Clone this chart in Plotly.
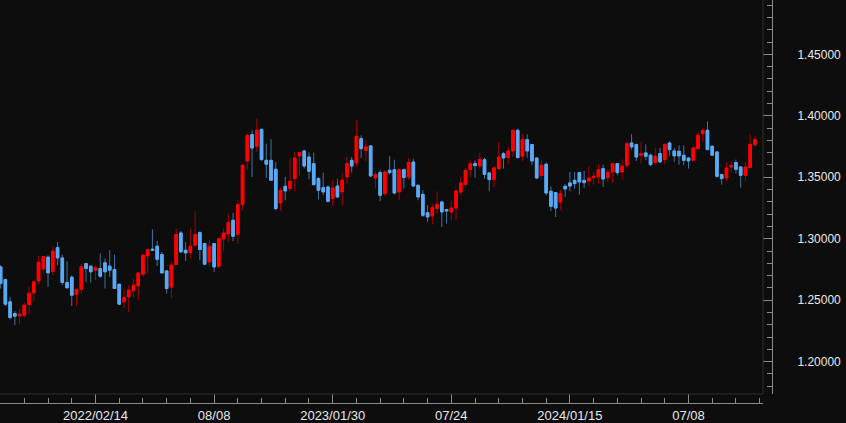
import pandas as pd
import plotly.graph_objects as go

# ---------------- data (weekly candles) ----------------
first_week = "2021-09-27"

open_ = [1.2771, 1.2668, 1.2487, 1.2392, 1.2373, 1.2378, 1.2465, 1.2560, 1.2657, 1.2755,
         1.2850, 1.2736, 1.2928, 1.2844, 1.2644, 1.2687, 1.2549, 1.2587, 1.2798, 1.2777,
         1.2744, 1.2758, 1.2804, 1.2777, 1.2750, 1.2630, 1.2487, 1.2527, 1.2576, 1.2617,
         1.2711, 1.2860, 1.2915, 1.2939, 1.2871, 1.2738, 1.2608, 1.2790, 1.3047, 1.2906,
         1.2888, 1.2947, 1.3050, 1.2961, 1.2812, 1.2961, 1.2776, 1.2999, 1.3039, 1.3150,
         1.3037, 1.3278, 1.3633, 1.3847, 1.3752, 1.3890, 1.3638, 1.3638, 1.3565, 1.3291,
         1.3427, 1.3408, 1.3489, 1.3673, 1.3714, 1.3665, 1.3611, 1.3489, 1.3416, 1.3421,
         1.3327, 1.3429, 1.3381, 1.3503, 1.3638, 1.3617, 1.3814, 1.3719, 1.3755, 1.3495,
         1.3538, 1.3367, 1.3557, 1.3562, 1.3380, 1.3562, 1.3502, 1.3624, 1.3435, 1.3361,
         1.3212, 1.3185, 1.3245, 1.3299, 1.3237, 1.3218, 1.3250, 1.3380, 1.3443, 1.3562,
         1.3611, 1.3592, 1.3643, 1.3535, 1.3483, 1.3570, 1.3692, 1.3660, 1.3714, 1.3882,
         1.3671, 1.3806, 1.3766, 1.3657, 1.3516, 1.3606, 1.3386, 1.3375, 1.3299, 1.3427,
         1.3454, 1.3475, 1.3538, 1.3475, 1.3470, 1.3497, 1.3503, 1.3570, 1.3497, 1.3543,
         1.3611, 1.3543, 1.3597, 1.3779, 1.3766, 1.3679, 1.3698, 1.3679, 1.3620, 1.3693,
         1.3644, 1.3779, 1.3714, 1.3711, 1.3679, 1.3657, 1.3638, 1.3733, 1.3855, 1.3882,
         1.3752, 1.3706, 1.3522, 1.3495, 1.3584, 1.3620, 1.3584, 1.3516, 1.3579, 1.3766]

high = [1.2785, 1.2676, 1.2527, 1.2411, 1.2432, 1.2481, 1.2609, 1.2663, 1.2858, 1.2855,
        1.2866, 1.2939, 1.2974, 1.2871, 1.2817, 1.2703, 1.2595, 1.2798, 1.2798, 1.2777,
        1.2785, 1.2880, 1.2839, 1.2907, 1.2871, 1.2630, 1.2595, 1.2622, 1.2676, 1.2730,
        1.2879, 1.2920, 1.3077, 1.2982, 1.2893, 1.2744, 1.2812, 1.3083, 1.3064, 1.2974,
        1.3083, 1.3224, 1.3061, 1.2969, 1.2988, 1.2961, 1.3010, 1.3083, 1.3205, 1.3210,
        1.3313, 1.3611, 1.3855, 1.3882, 1.3977, 1.3896, 1.3774, 1.3809, 1.3625, 1.3413,
        1.3503, 1.3652, 1.3706, 1.3701, 1.3725, 1.3701, 1.3701, 1.3503, 1.3538, 1.3435,
        1.3476, 1.3484, 1.3538, 1.3665, 1.3665, 1.3963, 1.3841, 1.3801, 1.3760, 1.3549,
        1.3557, 1.3557, 1.3671, 1.3643, 1.3570, 1.3570, 1.3657, 1.3651, 1.3435, 1.3394,
        1.3272, 1.3286, 1.3386, 1.3305, 1.3245, 1.3313, 1.3408, 1.3502, 1.3576, 1.3638,
        1.3638, 1.3697, 1.3659, 1.3543, 1.3589, 1.3787, 1.3706, 1.3746, 1.3888, 1.3896,
        1.3855, 1.3850, 1.3766, 1.3657, 1.3638, 1.3619, 1.3427, 1.3375, 1.3400, 1.3443,
        1.3543, 1.3543, 1.3543, 1.3551, 1.3589, 1.3543, 1.3606, 1.3603, 1.3562, 1.3616,
        1.3616, 1.3646, 1.3787, 1.3850, 1.3774, 1.3788, 1.3768, 1.3693, 1.3741, 1.3739,
        1.3774, 1.3793, 1.3739, 1.3760, 1.3760, 1.3665, 1.3739, 1.3869, 1.3896, 1.3955,
        1.3760, 1.3712, 1.3530, 1.3625, 1.3633, 1.3644, 1.3590, 1.3625, 1.3850, 1.3836]

low = [1.2595, 1.2451, 1.2343, 1.2297, 1.2302, 1.2357, 1.2392, 1.2492, 1.2628, 1.2717,
       1.2609, 1.2703, 1.2785, 1.2622, 1.2595, 1.2454, 1.2454, 1.2554, 1.2649, 1.2644,
       1.2663, 1.2682, 1.2595, 1.2690, 1.2595, 1.2460, 1.2433, 1.2405, 1.2522, 1.2500,
       1.2690, 1.2717, 1.2906, 1.2779, 1.2717, 1.2554, 1.2519, 1.2785, 1.2888, 1.2820,
       1.2839, 1.2947, 1.2825, 1.2785, 1.2771, 1.2730, 1.2760, 1.2898, 1.2974, 1.2980,
       1.2961, 1.3232, 1.3562, 1.3503, 1.3706, 1.3633, 1.3495, 1.3470, 1.3232, 1.3226,
       1.3313, 1.3386, 1.3389, 1.3516, 1.3571, 1.3484, 1.3435, 1.3321, 1.3354, 1.3294,
       1.3264, 1.3332, 1.3272, 1.3443, 1.3538, 1.3584, 1.3657, 1.3630, 1.3503, 1.3408,
       1.3305, 1.3345, 1.3524, 1.3361, 1.3313, 1.3408, 1.3475, 1.3421, 1.3313, 1.3177,
       1.3137, 1.3115, 1.3204, 1.3096, 1.3123, 1.3150, 1.3150, 1.3353, 1.3421, 1.3502,
       1.3497, 1.3570, 1.3489, 1.3386, 1.3421, 1.3562, 1.3570, 1.3611, 1.3665, 1.3652,
       1.3633, 1.3660, 1.3598, 1.3484, 1.3484, 1.3353, 1.3226, 1.3177, 1.3232, 1.3340,
       1.3386, 1.3408, 1.3359, 1.3413, 1.3429, 1.3440, 1.3448, 1.3421, 1.3462, 1.3456,
       1.3516, 1.3481, 1.3570, 1.3725, 1.3633, 1.3611, 1.3638, 1.3590, 1.3598, 1.3617,
       1.3606, 1.3679, 1.3625, 1.3603, 1.3598, 1.3571, 1.3633, 1.3720, 1.3788, 1.3720,
       1.3674, 1.3495, 1.3440, 1.3467, 1.3543, 1.3530, 1.3416, 1.3470, 1.3571, 1.3747]

close = [1.2636, 1.2468, 1.2359, 1.2370, 1.2386, 1.2460, 1.2557, 1.2649, 1.2809, 1.2855,
         1.2722, 1.2899, 1.2844, 1.2644, 1.2601, 1.2541, 1.2587, 1.2771, 1.2758, 1.2731,
         1.2763, 1.2695, 1.2731, 1.2744, 1.2595, 1.2468, 1.2522, 1.2583, 1.2622, 1.2722,
         1.2866, 1.2912, 1.2906, 1.2833, 1.2722, 1.2595, 1.2785, 1.3034, 1.2893, 1.2885,
         1.2939, 1.3034, 1.2912, 1.2793, 1.2939, 1.2771, 1.3001, 1.3047, 1.3131, 1.3020,
         1.3278, 1.3598, 1.3841, 1.3738, 1.3882, 1.3644, 1.3606, 1.3476, 1.3245, 1.3394,
         1.3389, 1.3467, 1.3657, 1.3701, 1.3592, 1.3549, 1.3440, 1.3394, 1.3381, 1.3305,
         1.3413, 1.3340, 1.3476, 1.3611, 1.3592, 1.3833, 1.3733, 1.3747, 1.3511, 1.3522,
         1.3353, 1.3543, 1.3538, 1.3372, 1.3562, 1.3497, 1.3619, 1.3429, 1.3340, 1.3191,
         1.3177, 1.3253, 1.3280, 1.3218, 1.3226, 1.3250, 1.3388, 1.3454, 1.3557, 1.3611,
         1.3595, 1.3646, 1.3524, 1.3481, 1.3576, 1.3665, 1.3657, 1.3714, 1.3882, 1.3660,
         1.3806, 1.3714, 1.3633, 1.3495, 1.3598, 1.3372, 1.3264, 1.3250, 1.3367, 1.3405,
         1.3429, 1.3448, 1.3462, 1.3456, 1.3494, 1.3508, 1.3562, 1.3486, 1.3543, 1.3611,
         1.3538, 1.3592, 1.3773, 1.3747, 1.3665, 1.3693, 1.3671, 1.3603, 1.3671, 1.3625,
         1.3768, 1.3725, 1.3674, 1.3674, 1.3638, 1.3633, 1.3739, 1.3842, 1.3882, 1.3725,
         1.3679, 1.3508, 1.3489, 1.3576, 1.3595, 1.3565, 1.3516, 1.3584, 1.3768, 1.3806]

tick_dates = ["2022-02-14", "2022-08-08", "2023-01-30", "2023-07-24", "2024-01-15", "2024-07-08"]
tick_labels = ["2022/02/14", "08/08", "2023/01/30", "07/24", "2024/01/15", "07/08"]
y_tick_step = 0.05
y_minor_step = 0.01

dates = pd.date_range(first_week, periods=len(open_), freq="7D")
body_hi = [max(o, c) for o, c in zip(open_, close)]
body_lo = [min(o, c) for o, c in zip(open_, close)]

# ---------------- styling ----------------
BG = "#0d0d0d"
UP_BODY, UP_WICK = "#ff0000", "#a80000"
DN_BODY, DN_WICK = "#5aaaf5", "#41729f"
AXIS = "#8a8a8a"
FAINT = "#2e2e2e"
TXT = "#e8e8e8"

W, H = 846, 423
plot_right_px, plot_bottom_px = 763, 394
yaxis_px, xaxis_px = 772, 403

# pixel calibration of the time axis
base = pd.Timestamp("2022-02-14")
base_px, px_per_week = 95.5, 4.744
x_left = base + pd.Timedelta(weeks=(0 - base_px) / px_per_week)
x_right = base + pd.Timedelta(weeks=(plot_right_px - base_px) / px_per_week)

fig = go.Figure()
fig.add_trace(go.Candlestick(
    x=dates, open=open_, high=high, low=low, close=close,
    increasing=dict(line=dict(color=UP_WICK, width=1), fillcolor=UP_WICK),
    decreasing=dict(line=dict(color=DN_WICK, width=1), fillcolor=DN_WICK),
    whiskerwidth=0, hoverinfo="skip", showlegend=False))
fig.add_trace(go.Candlestick(
    x=dates, open=open_, high=body_hi, low=body_lo, close=close,
    increasing=dict(line=dict(color=UP_BODY, width=1), fillcolor=UP_BODY),
    decreasing=dict(line=dict(color=DN_BODY, width=1), fillcolor=DN_BODY),
    whiskerwidth=0, showlegend=False))

fig.update_layout(
    width=W, height=H,
    margin=dict(l=0, r=0, t=0, b=0),
    paper_bgcolor=BG, plot_bgcolor=BG,
    boxgap=0.22,
    showlegend=False,
    font=dict(family="Liberation Sans, Arial", size=12, color=TXT),
    xaxis=dict(
        type="date",
        domain=[0, plot_right_px / W],
        anchor="free", position=(H - xaxis_px) / H,
        range=[x_left, x_right],
        rangeslider=dict(visible=False),
        showgrid=False, zeroline=False,
        showline=True, linecolor=AXIS, linewidth=1,
        tickmode="array", tickvals=tick_dates, ticktext=tick_labels,
        ticks="inside", ticklen=9, tickcolor=AXIS, tickwidth=1,
        tickfont=dict(size=13, color=TXT),
        minor=dict(tickmode="linear", tick0="2022-02-14", dtick=5 * 7 * 86400000,
                   ticks="inside", ticklen=5, tickcolor=AXIS, showgrid=False),
    ),
    yaxis=dict(
        domain=[(H - plot_bottom_px) / H, 1],
        anchor="free", position=yaxis_px / W, side="right",
        range=[1.1737, 1.4942],
        showgrid=False, zeroline=False,
        showline=True, linecolor=AXIS, linewidth=1,
        tickmode="linear", tick0=0, dtick=y_tick_step, tickformat=".5f",
        ticks="inside", ticklen=9, tickcolor=AXIS, tickwidth=1,
        ticklabelstandoff=22,
        tickfont=dict(size=12, color=TXT),
        minor=dict(tickmode="linear", tick0=0, dtick=y_minor_step,
                   ticks="inside", ticklen=5, tickcolor=AXIS, showgrid=False),
    ),
    shapes=[
        dict(type="line", xref="paper", yref="paper",
             x0=plot_right_px / W, x1=plot_right_px / W,
             y0=(H - plot_bottom_px) / H, y1=1,
             line=dict(color=FAINT, width=1)),
        dict(type="line", xref="paper", yref="paper",
             x0=0, x1=plot_right_px / W,
             y0=(H - plot_bottom_px) / H, y1=(H - plot_bottom_px) / H,
             line=dict(color=FAINT, width=1)),
    ],
)

fig.write_html(
    "out.html",
    config={"displayModeBar": False},
    post_script="document.body.style.margin='0';document.body.style.background='#0d0d0d';",
)
